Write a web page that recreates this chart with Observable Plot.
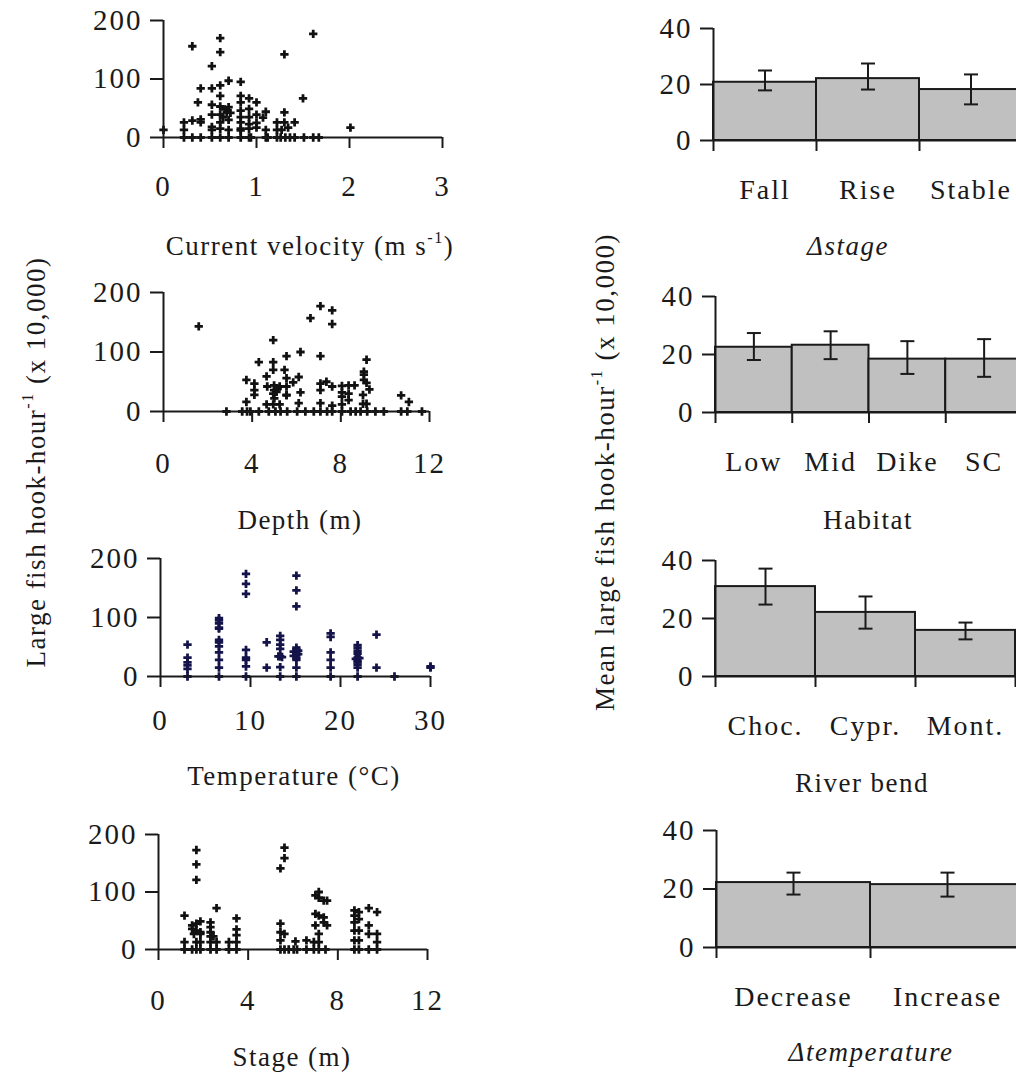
<!DOCTYPE html>
<html><head><meta charset="utf-8">
<script src="https://cdn.jsdelivr.net/npm/d3@7"></script>
<script src="https://cdn.jsdelivr.net/npm/@observablehq/plot@0.6"></script>
<style>
html,body{margin:0;padding:0;background:#fff;overflow:hidden;}
#fig{position:relative;width:1016px;height:1076px;overflow:hidden;font-family:"Liberation Serif","Times New Roman",serif;color:#1a1a1a;}
#fig svg{position:absolute;}
.lab{position:absolute;font-size:27px;line-height:1;white-space:nowrap;transform:translate(-50%,-50%);letter-spacing:1.5px;}
.ylab{position:absolute;font-size:27px;line-height:1;white-space:nowrap;transform:translate(-50%,-50%) rotate(-90deg);letter-spacing:1.5px;}
sup{font-size:0.6em;vertical-align:0.7em;line-height:0;}
</style></head><body><div id="fig"></div><script>
// ---------- data ----------
const velocity = [
[0,13],[0.31,156],[0.61,170],[0.61,146],[1.61,177],[1.30,142],[0.52,122],[0.70,97],[0.83,95],[0.61,89],
[0.40,84],[0.52,84],[1.50,67],[0.61,71],[0.37,60],[0.83,71],[0.92,67],[1.0,60],[0.52,56],[0.61,53],
[0.70,52],[0.83,60],[0.92,49],[1.10,44],[1.30,43],[0.52,39],[0.61,39],[0.68,43],[0.83,46],[0.83,35],
[1.0,39],[1.07,34],[0.92,35],[0.64,35],[0.22,26],[0.31,29],[0.40,31],[0.40,26],[0.61,26],[0.83,26],
[0.92,23],[1.0,25],[1.22,26],[1.30,26],[1.41,26],[0.22,13],[0.52,18],[0.52,13],[0.61,15],[0.70,13],
[0.83,15],[0.83,12],[0.92,15],[1.0,17],[1.10,13],[1.22,13],[1.27,13],[1.34,17],[2.01,17],[0.66,48],
[0.72,42],[0.70,30],
[0.22,0],[0.31,0],[0.40,0],[0.52,0],[0.61,0],[0.70,0],[0.83,0],[0.92,0],[0.94,0],[1.10,0],[1.12,0],
[1.22,0],[1.26,0],[1.31,0],[1.36,0],[1.41,0],[1.51,0],[1.61,0],[1.67,0]
];
const depth = [
[1.59,143],[7.08,177],[7.61,170],[6.63,157],[7.61,147],[4.95,120],[6.18,100],[5.55,93],[7.08,93],[4.30,83],
[4.95,83],[9.16,87],[4.95,70],[5.46,70],[4.65,59],[5.55,56],[6.10,58],[3.74,53],[5.85,49],[9.04,67],
[9.04,62],[9.04,53],[9.16,48],[4.10,47],[7.35,50],[7.08,47],[4.68,42],[4.99,44],[5.24,42],[5.55,42],
[7.61,42],[8.05,43],[8.35,44],[8.62,44],[4.10,36],[4.99,36],[5.10,33],[6.18,32],[7.08,36],[8.05,32],
[8.35,30],[9.0,28],[9.29,37],[4.10,28],[5.55,28],[10.72,27],[11.07,16],[3.74,16],[4.65,12],[4.95,12],
[5.24,12],[6.10,14],[7.08,14],[7.61,10],[8.05,12],[8.35,19],[9.0,13],[9.16,13],[5.55,27],[4.95,30],
[5.15,38],[8.05,25],[5.0,22],
[2.84,0],[3.55,0],[3.77,0],[3.92,0],[4.30,0],[4.75,0],[5.05,0],[5.28,0],[5.58,0],[6.03,0],[6.40,0],
[6.78,0],[7.08,0],[7.38,0],[7.61,0],[8.05,0],[8.44,0],[8.67,0],[8.89,0],[9.19,0],[9.56,0],[9.94,0],
[10.72,0],[11.0,0],[11.66,0]
];
const temperature = [
[3,54],[3,32],[3,24],[3,19],[3,13],[3,0],
[6.5,99],[6.5,95],[6.5,90],[6.5,83],[6.5,81],[6.5,62],[6.5,58],[6.5,51],[6.5,41],[6.5,28],[6.5,15],[6.5,0],
[9.5,174],[9.5,157],[9.5,140],[9.5,45],[9.5,32],[9.5,28],[9.5,17],[9.5,0],
[11.8,58],[11.8,15],
[13.3,69],[13.3,62],[13.3,54],[13.3,47],[13.3,34],[13.1,34],[13.5,33],[13.3,16],[13.3,0],
[15.1,171],[15.1,146],[15.1,119],[15.1,49],[15.1,45],[15.1,41],[15.1,37],[15.1,32],[15.1,28],[15.1,15],[15.1,0],
[14.8,42],[15.3,44],[14.8,35],[15.3,38],
[18.9,73],[18.9,67],[18.9,41],[18.9,28],[18.9,15],[18.9,0],
[21.9,53],[21.9,49],[21.9,44],[21.9,39],[21.9,32],[21.9,27],[21.9,24],[21.9,20],[21.9,15],[21.9,0],[21.7,30],[22.1,31],
[24,71],[24,15],[26,0],[30,17],[30,15]
];
const stage = [
[1.69,173],[1.69,148],[1.69,121],[5.62,177],[5.62,159],[5.44,141],[1.16,59],[2.59,72],[3.48,54],[1.50,42],
[1.69,45],[1.87,49],[1.50,36],[1.69,33],[1.87,30],[1.58,27],[1.87,27],[2.32,47],[2.32,39],[2.32,30],
[2.32,23],[2.45,23],[1.16,13],[1.69,13],[1.87,13],[2.32,13],[2.59,13],[3.14,13],[3.48,35],[3.48,25],
[3.48,13],[5.44,45],[5.44,30],[5.62,27],[5.44,16],[6.11,14],[6.60,16],[6.93,13],[7.15,13],[7.0,94],
[7.15,100],[7.37,85],[7.52,85],[7.15,90],[7.0,62],[7.15,59],[7.37,56],[7.37,47],[7.52,42],[7.0,42],
[7.15,27],[8.74,68],[8.94,65],[8.74,59],[8.94,53],[8.74,47],[8.74,33],[8.94,33],[8.74,16],[8.94,16],
[9.38,72],[9.38,42],[9.38,27],[9.75,65],[9.75,27],[9.75,13],
[1.16,0],[1.50,0],[1.69,0],[1.87,0],[2.32,0],[2.59,0],[3.14,0],[3.48,0],[5.44,0],[5.62,0],[5.81,0],
[6.03,0],[6.18,0],[6.60,0],[6.93,0],[7.15,0],[7.45,0],[8.74,0],[8.94,0],[9.38,0],[9.75,0]
];

const stageCats = ["Fall","Rise","Stable"];
const stageMeans = [20.8, 22.1, 18.2];
const stageLo = [17.9, 18.2, 12.9];
const stageHi = [25.0, 27.5, 23.6];

const habitatCats = ["Low","Mid","Dike","SC"];
const habitatMeans = [22.5, 23.2, 18.4, 18.4];
const habitatLo = [18.1, 18.4, 13.3, 12.3];
const habitatHi = [27.4, 28.0, 24.6, 25.3];

const bendCats = ["Choc.","Cypr.","Mont."];
const bendMeans = [31.0, 22.1, 15.9];
const bendLo = [24.8, 16.5, 12.8];
const bendHi = [37.2, 27.6, 18.6];

const dtempCats = ["Decrease","Increase"];
const dtempMeans = [22.2, 21.5];
const dtempLo = [18.1, 17.4];
const dtempHi = [25.6, 25.6];

// ---------- drawing ----------
const fig = document.getElementById("fig");
const INK = "#1a1a1a";
const TICKFONT = 29;
const FONT = {fontFamily: '"Liberation Serif","Times New Roman",serif', fontSize: "27px", color: INK, background: "transparent", letterSpacing: "2px"};

function place(svg, left, top) {
  svg.style.left = left + "px";
  svg.style.top = top + "px";
  fig.appendChild(svg);
}

function scatter({data, xDomain, xTicks, top, ml, mr, plotH, tp, color}) {
  const mt = 20, mb = 73;
  const svg = Plot.plot({
    width: 470, height: mt + plotH + mb,
    marginLeft: ml, marginRight: mr, marginTop: mt, marginBottom: mb,
    style: FONT,
    x: {domain: xDomain},
    y: {domain: [0, 200]},
    marks: [
      Plot.dot(data, {x: d => d[0], y: d => d[1], symbol: "cross", r: 3.5, fill: color, stroke: "none"}),
      Plot.ruleY([0], {stroke: INK, strokeWidth: 2}),
      Plot.ruleX([0], {y1: 0, y2: 200, stroke: INK, strokeWidth: 2}),
      Plot.axisX(xTicks, {tickSize: 11, tickPadding: tp, strokeWidth: 2, stroke: INK, label: null, fontSize: TICKFONT}),
      Plot.axisY([0, 100, 200], {tickSize: 13, tickPadding: 8, strokeWidth: 2, stroke: INK, label: null, fontSize: TICKFONT})
    ]
  });
  place(svg, 0, top);
}

const cap = {draw(context) { context.moveTo(-7, 0); context.lineTo(7, 0); }};

function bars({cats, means, lo, hi, top, ml, mr, plotH}) {
  const mt = 20, mb = 75;
  const n = cats.length;
  const rows = cats.map((c, i) => ({i, c, m: means[i], lo: lo[i], hi: hi[i]}));
  const svg = Plot.plot({
    width: 470, height: mt + plotH + mb,
    marginLeft: ml, marginRight: mr, marginTop: mt, marginBottom: mb,
    style: FONT,
    x: {domain: [0, n]},
    y: {domain: [0, 40]},
    marks: [
      Plot.rect(rows, {x1: "i", x2: d => d.i + 1, y1: 0, y2: "m", fill: "#c0c0c0", stroke: INK, strokeWidth: 2}),
      Plot.ruleX(rows, {x: d => d.i + 0.5, y1: "lo", y2: "hi", stroke: INK, strokeWidth: 2}),
      Plot.dot(rows, {x: d => d.i + 0.5, y: "lo", symbol: cap, fill: "none", stroke: INK, strokeWidth: 2}),
      Plot.dot(rows, {x: d => d.i + 0.5, y: "hi", symbol: cap, fill: "none", stroke: INK, strokeWidth: 2}),
      Plot.ruleY([0], {stroke: INK, strokeWidth: 2}),
      Plot.ruleX([0], {y1: 0, y2: 40, stroke: INK, strokeWidth: 2}),
      Plot.axisX(d3.range(n + 1), {tickSize: 11, tickFormat: () => "", strokeWidth: 2, stroke: INK, label: null}),
      Plot.axisX(rows.map(d => d.i + 0.5), {tickSize: 0, tickPadding: 39, tickFormat: v => cats[Math.floor(v)], label: null, fontSize: 28}),
      Plot.axisY([0, 20, 40], {tickSize: 13, tickPadding: 8, strokeWidth: 2, stroke: INK, label: null, fontSize: TICKFONT})
    ]
  });
  place(svg, 560, top);
}

scatter({data: velocity, xDomain: [0, 3], xTicks: [0, 1, 2, 3], top: 0, ml: 163, mr: 28, plotH: 117, tp: 27, color: "#111"});
scatter({data: depth, xDomain: [0, 12], xTicks: [0, 4, 8, 12], top: 272, ml: 163, mr: 41, plotH: 119, tp: 30, color: "#111"});
scatter({data: temperature, xDomain: [0, 30], xTicks: [0, 10, 20, 30], top: 538, ml: 160, mr: 40, plotH: 118, tp: 22, color: "#14144a"});
scatter({data: stage, xDomain: [0, 12], xTicks: [0, 4, 8, 12], top: 814, ml: 158, mr: 43, plotH: 115, tp: 29, color: "#111"});

bars({cats: stageCats, means: stageMeans, lo: stageLo, hi: stageHi, top: 8, ml: 153, mr: 8, plotH: 112});
bars({cats: habitatCats, means: habitatMeans, lo: habitatLo, hi: habitatHi, top: 276, ml: 155, mr: 8, plotH: 116});
bars({cats: bendCats, means: bendMeans, lo: bendLo, hi: bendHi, top: 540, ml: 155, mr: 15, plotH: 116});
bars({cats: dtempCats, means: dtempMeans, lo: dtempLo, hi: dtempHi, top: 810, ml: 156, mr: 6, plotH: 117});

// ---------- axis titles ----------
const labels = [
  ["lab", 310, 246, "Current velocity (m s<sup>-1</sup>)"],
  ["lab", 300, 520, "Depth (m)"],
  ["lab", 294, 776, "Temperature (°C)"],
  ["lab", 292, 1057, "Stage (m)"],
  ["lab", 848, 246, "<i>Δstage</i>"],
  ["lab", 868, 520, "Habitat"],
  ["lab", 862, 783, "River bend"],
  ["lab", 871, 1052, "<i>Δtemperature</i>"],
  ["ylab", 36, 462, "Large fish hook-hour<sup>-1</sup> (x 10,000)"],
  ["ylab", 605, 472, "Mean large fish hook-hour<sup>-1</sup> (x 10,000)"]
];
for (const [cls, x, y, html] of labels) {
  const d = document.createElement("div");
  d.className = cls;
  d.style.left = x + "px";
  d.style.top = y + "px";
  d.innerHTML = html;
  fig.appendChild(d);
}
</script></body></html>
